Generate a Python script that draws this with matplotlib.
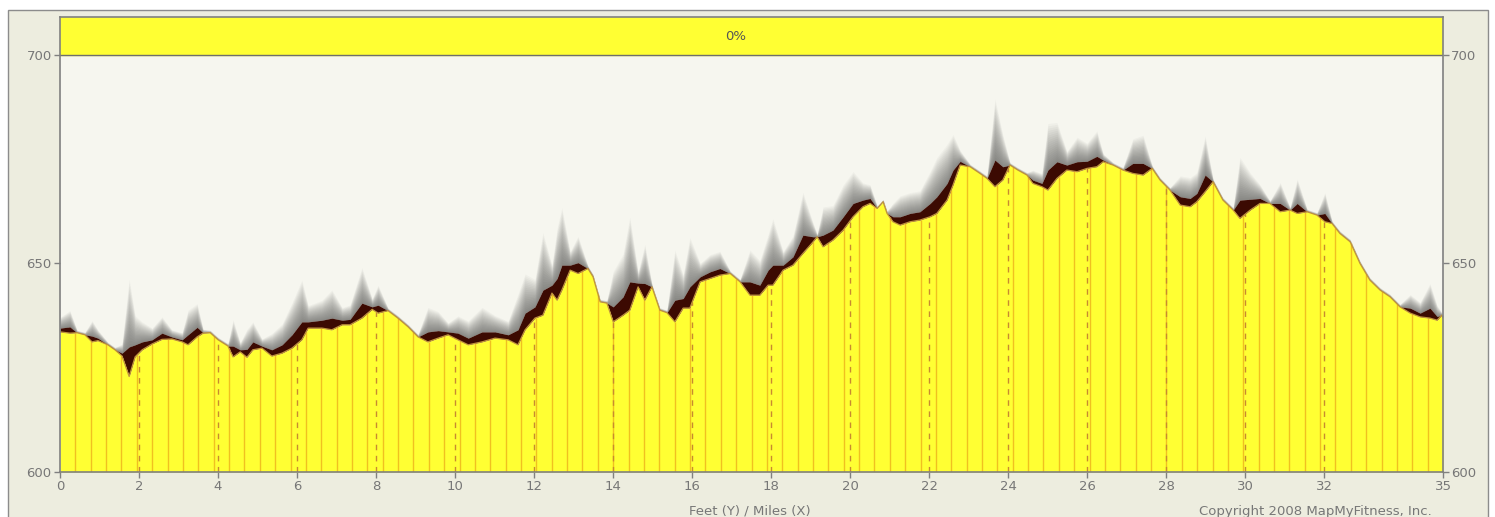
import numpy as np
import matplotlib.pyplot as plt
from matplotlib.patches import Rectangle

# distance (miles) and elevation (feet)
miles = [0.00, 0.25, 0.43, 0.63, 0.81, 0.96, 1.21, 1.39, 1.57, 1.75, 1.90, 2.08, 2.33, 2.58,
         2.83, 3.09, 3.24, 3.47, 3.62, 3.80, 4.00, 4.25, 4.38, 4.56, 4.73, 4.88, 5.11, 5.36,
         5.62, 5.87, 6.12, 6.28, 6.63, 6.88, 7.14, 7.34, 7.64, 7.90, 8.05, 8.30, 8.55, 8.81,
         9.06, 9.31, 9.57, 9.82, 10.07, 10.33, 10.68, 11.01, 11.34, 11.59, 11.77, 12.02, 12.22,
         12.45, 12.58, 12.70, 12.91, 13.11, 13.36, 13.49, 13.67, 13.84, 14.00, 14.25, 14.42,
         14.63, 14.80, 14.98, 15.18, 15.36, 15.56, 15.77, 15.94, 16.20, 16.45, 16.70, 16.96,
         17.21, 17.46, 17.71, 17.92, 18.04, 18.30, 18.55, 18.80, 19.06, 19.16, 19.31, 19.56,
         19.82, 20.07, 20.32, 20.50, 20.68, 20.83, 20.93, 21.08, 21.26, 21.51, 21.76, 22.02,
         22.19, 22.45, 22.60, 22.78, 23.03, 23.28, 23.46, 23.66, 23.86, 24.04, 24.24, 24.47,
         24.62, 24.85, 25.00, 25.23, 25.48, 25.74, 25.99, 26.24, 26.40, 26.65, 26.90, 27.15,
         27.41, 27.64, 27.84, 28.09, 28.35, 28.60, 28.77, 28.98, 29.18, 29.43, 29.69, 29.86,
         30.12, 30.37, 30.62, 30.88, 31.13, 31.31, 31.56, 31.81, 32.01, 32.19, 32.39, 32.65,
         32.90, 33.15, 33.41, 33.66, 33.91, 34.17, 34.42, 34.67, 34.85, 34.97, 35.00]

elevation = [633.6, 633.3, 633.4, 632.9, 631.2, 631.5, 630.5, 629.3, 627.8, 622.9, 627.6, 629.3,
             630.7, 631.8, 631.9, 631.2, 630.5, 632.4, 633.3, 633.4, 631.7, 630.2, 627.6, 628.8,
             627.5, 629.3, 629.7, 627.8, 628.5, 629.7, 631.7, 634.5, 634.5, 634.1, 635.3, 635.3,
             636.9, 639.0, 638.1, 638.7, 636.9, 634.8, 632.4, 631.2, 632.1, 632.9, 631.7, 630.5,
             631.2, 632.1, 631.7, 630.5, 634.1, 636.9, 637.6, 642.9, 641.2, 643.6, 648.4, 647.6,
             648.8, 646.8, 640.8, 640.5, 636.0, 637.6, 638.8, 644.4, 641.2, 644.4, 638.8, 638.2,
             636.0, 639.3, 639.3, 645.6, 646.4, 647.2, 647.6, 645.6, 642.4, 642.4, 644.8, 644.8,
             648.4, 649.6, 652.4, 655.2, 656.4, 654.0, 655.6, 658.0, 661.2, 663.6, 664.4, 663.2,
             664.8, 662.0, 660.0, 659.2, 660.0, 660.4, 661.2, 662.0, 665.2, 668.8, 673.6, 673.2,
             671.6, 670.4, 668.4, 670.0, 673.6, 672.4, 671.2, 669.2, 668.4, 667.6, 670.4, 672.4,
             672.0, 672.8, 673.2, 674.4, 673.6, 672.4, 671.6, 671.2, 672.8, 670.0, 667.6, 664.0,
             663.6, 664.8, 667.2, 669.6, 665.2, 662.8, 660.8, 662.8, 664.4, 664.4, 662.4, 662.8,
             662.0, 662.4, 661.6, 660.0, 659.6, 657.2, 655.2, 650.0, 646.0, 643.6, 642.0, 639.6,
             638.1, 637.2, 636.9, 636.4, 637.6, 637.0]

# upper (dark) envelope at the same distances
upper = [634.5, 634.8, 633.4, 632.9, 632.6, 632.1, 630.5, 629.3, 628.5, 630.0, 630.5, 631.2,
         631.7, 633.3, 632.4, 631.7, 632.9, 634.7, 633.4, 633.4, 631.7, 630.2, 630.2, 629.3,
         629.4, 631.2, 630.2, 629.3, 630.5, 632.9, 636.0, 636.0, 636.4, 636.9, 636.4, 636.6,
         640.5, 639.6, 640.0, 638.7, 636.9, 634.8, 632.4, 633.6, 633.9, 633.6, 633.3, 632.1,
         633.6, 633.6, 632.9, 634.1, 638.1, 639.6, 643.6, 644.8, 646.4, 649.6, 649.6, 650.2,
         648.8, 646.8, 640.8, 640.5, 639.6, 642.0, 645.6, 645.3, 645.2, 644.4, 638.8, 638.2,
         641.2, 641.6, 644.4, 646.8, 648.0, 648.8, 647.6, 645.6, 645.6, 644.8, 648.4, 649.6,
         649.6, 651.6, 656.8, 656.4, 656.4, 656.8, 658.0, 661.2, 664.4, 665.2, 665.6, 663.2,
         664.8, 662.0, 661.2, 661.2, 662.0, 662.4, 664.4, 666.0, 669.2, 672.4, 674.5, 673.2,
         671.6, 670.4, 674.8, 673.2, 673.6, 672.4, 671.2, 670.0, 669.2, 672.4, 674.4, 673.6,
         674.4, 674.5, 675.7, 674.8, 673.6, 672.4, 674.0, 674.0, 672.8, 670.0, 667.6, 666.0,
         665.6, 666.8, 671.2, 669.6, 665.2, 662.8, 665.2, 665.4, 665.6, 664.4, 664.4, 662.8,
         664.4, 662.4, 661.6, 662.0, 659.6, 657.2, 655.2, 650.0, 646.0, 643.6, 642.0, 639.6,
         639.3, 638.1, 639.3, 637.3, 637.6, 637.0]

x_ticks = [0, 2, 4, 6, 8, 10, 12, 14, 16, 18, 20, 22, 24, 26, 28, 30, 32, 35]
y_ticks = [600, 650, 700]
grade_label = "0%"

x = np.array(miles)
y = np.array(elevation)
up = np.array(upper)

fig = plt.figure(figsize=(14.95, 5.17), dpi=100)
fig.patch.set_facecolor("white")
fig.patches.append(Rectangle((8 / 1495, -0.05), 1480 / 1495, 1.05 - 10 / 517,
                             transform=fig.transFigure, facecolor="#ededdf",
                             edgecolor="#8c8c8c", linewidth=1.0, zorder=-10))

ax = fig.add_axes([60 / 1495, 1 - 472 / 517, 1383 / 1495, 455 / 517])
ax.set_facecolor("#f6f6ef")
ax.set_xlim(0, 35)
ax.set_ylim(600, 709.1)

# soft shadow above the dark envelope
extra = up - y
for k in range(1, 21):
    ax.fill_between(x, up, up + (extra * 2.2 + 0.6) * k / 20,
                    color="#303030", alpha=0.035, linewidth=0, zorder=1)

ax.fill_between(x, y, up, color="#3c0a02", linewidth=0, zorder=2)
ax.fill_between(x, 600, y, color="#ffff33", linewidth=0, zorder=3)
ax.plot(x, y, color="#c0923c", linewidth=0.9, zorder=4)

# thin column lines and dashed mile markers inside the fill
cols = np.arange(1, 90) * 35 / 90
ax.vlines(cols, 600, np.interp(cols, x, y), colors="#f0c020", linewidths=1.0,
          alpha=1.0, zorder=3.5)
marks = np.arange(2, 34, 2)
ax.vlines(marks, 600, np.interp(marks, x, y), colors="#c88a30", linewidths=1.0,
          linestyles=(0, (4, 4)), zorder=3.6)

# grade band on top
ax.axhspan(700, 709.1, color="#ffff33", zorder=5)
ax.axhline(700, color="#6e6e6e", linewidth=1.0, zorder=6)
ax.text(17.1, 704.5, grade_label, ha="center", va="center", fontsize=9.5,
        color="#555555", zorder=7)

for s in ax.spines.values():
    s.set_color("#808080")
    s.set_linewidth(1.2)
    s.set_zorder(8)

ax.set_xticks(x_ticks)
ax.set_yticks(y_ticks)
ax.tick_params(axis="both", colors="#808080", labelcolor="#777777", labelsize=9.5,
               length=4, width=1, direction="out", pad=2)
ax.tick_params(axis="y", right=True, labelright=True)

fig.text(750 / 1495, 1 - 511 / 517, "Feet (Y) / Miles (X)", ha="center", va="center",
         fontsize=9.5, color="#777777")
fig.text(1432 / 1495, 1 - 511 / 517, "Copyright 2008 MapMyFitness, Inc.", ha="right",
         va="center", fontsize=9.5, color="#777777")

fig.savefig("out.png", dpi=100)
